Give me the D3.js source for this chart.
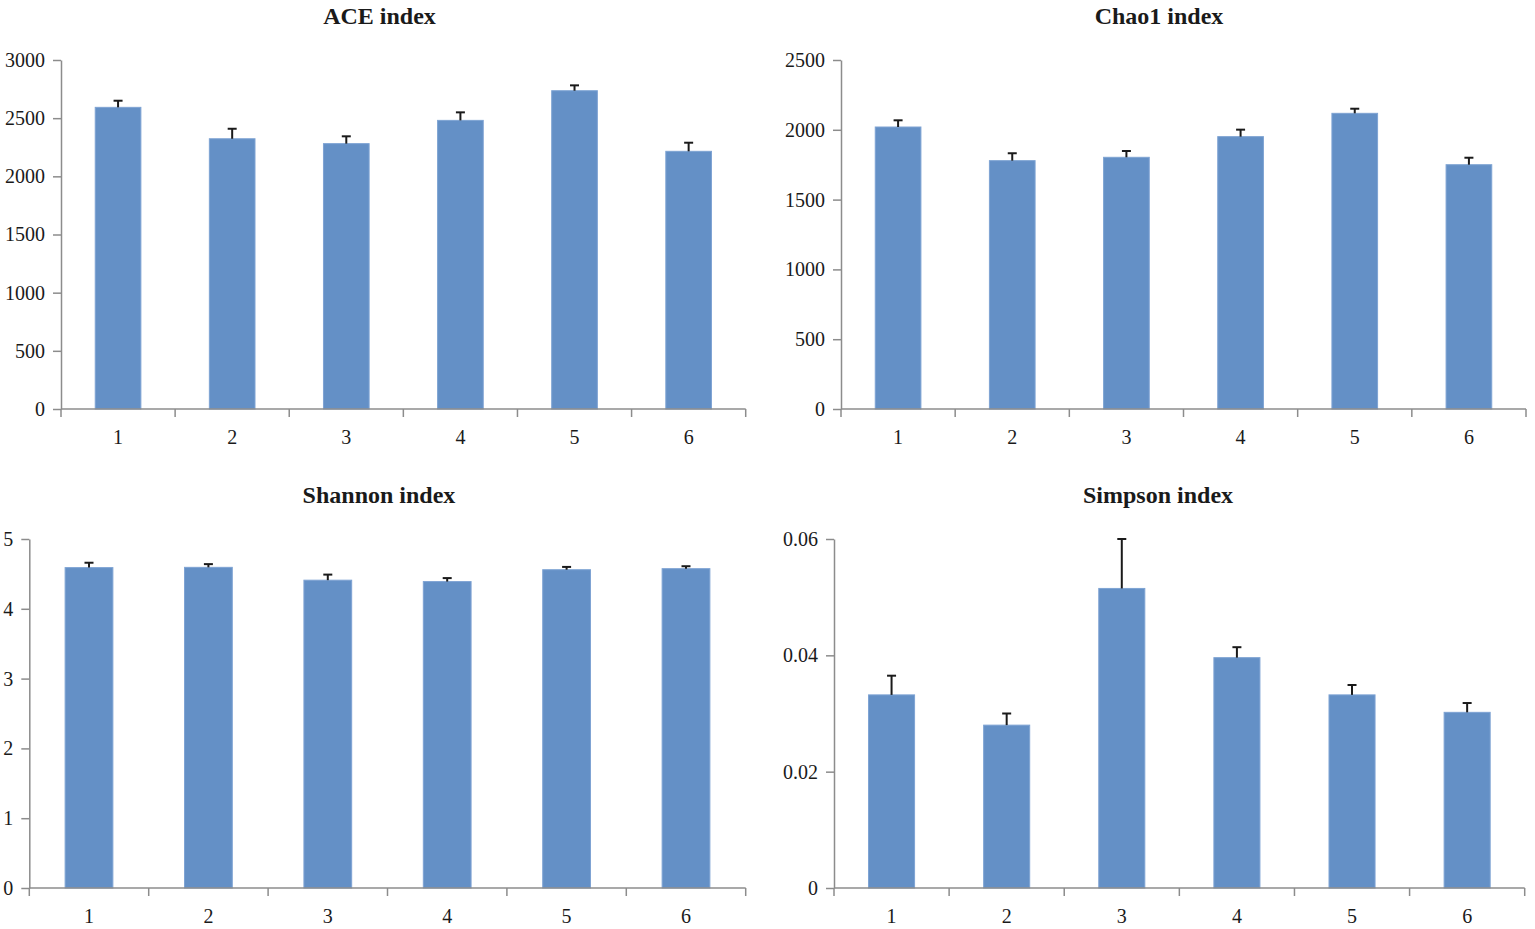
<!DOCTYPE html>
<html lang="en">
<head>
    <meta charset="UTF-8">
    <script src="https://cdn.jsdelivr.net/npm/d3@7"></script>
    <title>Alpha diversity indices</title>
    <style>
        html, body {
            margin: 0;
            padding: 0;
            background: #fff;
        }
        svg text {
            font-family: "Liberation Serif", "Times New Roman", serif;
            fill: #1a1a1a;
        }
        .title {
            font-weight: bold;
            font-size: 24px;
        }
        .axis text {
            font-size: 20px;
        }
        .axis path, .axis line {
            stroke: #8c8c8c;
            stroke-width: 1.5px;
        }
    </style>
</head>
<body>
    <div id="chart"></div>

    <script>
        // groups on the x axis
        let groups = ['1', '2', '3', '4', '5', '6'];

        // means and upper error (mean + sd) per index
        let aceMean = [2593, 2323, 2281, 2481, 2736, 2215];
        let aceErr = [2650, 2409, 2344, 2550, 2782, 2289];

        let chaoMean = [2020, 1779, 1803, 1951, 2118, 1750];
        let chaoErr = [2068, 1832, 1848, 2001, 2151, 1800];

        let shannonMean = [4.59, 4.594, 4.41, 4.39, 4.56, 4.575];
        let shannonErr = [4.66, 4.64, 4.49, 4.44, 4.60, 4.61];

        let simpsonMean = [0.0332, 0.0280, 0.0515, 0.0396, 0.0332, 0.0302];
        let simpsonErr = [0.0365, 0.0300, 0.0600, 0.0414, 0.0349, 0.0318];

        let aceTicks = [0, 500, 1000, 1500, 2000, 2500, 3000];
        let chaoTicks = [0, 500, 1000, 1500, 2000, 2500];
        let shannonTicks = [0, 1, 2, 3, 4, 5];
        let simpsonTicks = [0, 0.02, 0.04, 0.06];

        let width = 1535;
        let height = 929;

        let svg = d3.select('#chart').append('svg')
            .attr('width', width)
            .attr('height', height);

        let panels = [
            {title: 'ACE index', mean: aceMean, err: aceErr, ticks: aceTicks, fmt: d3.format('d'),
             x0: 61, x1: 745.7, top: 60, bottom: 409, titleX: 379.5, titleY: 24},
            {title: 'Chao1 index', mean: chaoMean, err: chaoErr, ticks: chaoTicks, fmt: d3.format('d'),
             x0: 841, x1: 1526, top: 60, bottom: 409, titleX: 1159, titleY: 24},
            {title: 'Shannon index', mean: shannonMean, err: shannonErr, ticks: shannonTicks, fmt: d3.format('d'),
             x0: 29.3, x1: 745.7, top: 539, bottom: 888, titleX: 379, titleY: 503},
            {title: 'Simpson index', mean: simpsonMean, err: simpsonErr, ticks: simpsonTicks,
             fmt: (d) => d === 0 ? '0' : d3.format('.2f')(d),
             x0: 834, x1: 1524.7, top: 539, bottom: 888, titleX: 1158, titleY: 503}
        ];

        panels.forEach((p) => {
            let g = svg.append('g');

            let x = d3.scaleBand()
                .domain(groups)
                .range([p.x0, p.x1])
                .paddingInner(0.6)
                .paddingOuter(0.3);

            let y = d3.scaleLinear()
                .domain([0, d3.max(p.ticks)])
                .range([p.bottom, p.top]);

            let rows = groups.map((k, i) => ({key: k, mean: p.mean[i], err: p.err[i]}));

            g.selectAll('rect')
                .data(rows)
                .join('rect')
                .attr('x', (d) => x(d.key))
                .attr('width', x.bandwidth())
                .attr('y', (d) => y(d.mean))
                .attr('height', (d) => y(0) - y(d.mean))
                .attr('fill', '#6490c6')
                .attr('stroke', '#7ea3d3')
                .attr('stroke-width', 1);

            // upper error bars
            let eb = g.selectAll('g.err')
                .data(rows)
                .join('g')
                .attr('class', 'err')
                .attr('transform', (d) => `translate(${x(d.key) + x.bandwidth() / 2},0)`);

            eb.append('line')
                .attr('y1', (d) => y(d.mean))
                .attr('y2', (d) => y(d.err))
                .attr('stroke', '#1a1a1a')
                .attr('stroke-width', 2);

            eb.append('line')
                .attr('x1', -4.5)
                .attr('x2', 4.5)
                .attr('y1', (d) => y(d.err))
                .attr('y2', (d) => y(d.err))
                .attr('stroke', '#1a1a1a')
                .attr('stroke-width', 2);

            // y axis
            g.append('g')
                .attr('class', 'axis')
                .attr('transform', `translate(${p.x0},0)`)
                .call(d3.axisLeft(y).tickValues(p.ticks).tickFormat(p.fmt).tickSize(8).tickSizeOuter(0).tickPadding(8));

            // x axis with ticks between the groups
            let xa = g.append('g')
                .attr('class', 'axis')
                .attr('transform', `translate(0,${p.bottom})`);

            xa.append('line')
                .attr('x1', p.x0)
                .attr('x2', p.x1);

            let step = (p.x1 - p.x0) / groups.length;
            xa.selectAll('line.tick')
                .data(d3.range(groups.length + 1))
                .join('line')
                .attr('class', 'tick')
                .attr('x1', (i) => p.x0 + i * step)
                .attr('x2', (i) => p.x0 + i * step)
                .attr('y1', 0)
                .attr('y2', 8);

            xa.selectAll('text')
                .data(groups)
                .join('text')
                .attr('x', (d) => x(d) + x.bandwidth() / 2)
                .attr('y', 35)
                .attr('text-anchor', 'middle')
                .text((d) => d);

            g.append('text')
                .attr('class', 'title')
                .attr('x', p.titleX)
                .attr('y', p.titleY)
                .attr('text-anchor', 'middle')
                .text(p.title);
        });
    </script>
</body>
</html>
